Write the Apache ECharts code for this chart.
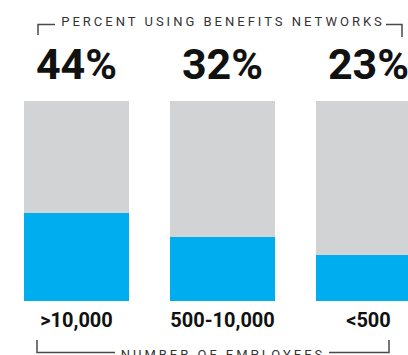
<!DOCTYPE html>
<html>
<head>
<meta charset="utf-8">
<script src="https://cdn.jsdelivr.net/npm/echarts@6/dist/echarts.min.js"></script>
<style>
  html, body { margin: 0; padding: 0; background: #ffffff; }
  #chart { width: 408px; height: 355px; }
</style>
</head>
<body>
<div id="chart"></div>
<script>
// Employer size groups and share of each using benefits networks (percent)
const categories = ['>10,000', '500-10,000', '<500'];
const shares = [44, 32, 23];
const topHeading = 'PERCENT USING BENEFITS NETWORKS';
const bottomHeading = 'NUMBER OF EMPLOYEES';

const blue = '#00adee';
const gray = '#d2d3d5';
const ink = '#111111';
const rule = '#4a4a4a';

const chart = echarts.init(document.getElementById('chart'), null, { renderer: 'svg' });

chart.setOption({
  animation: false,
  // the last column runs past the right edge of the page
  grid: {
    left: 3.5, top: 101, width: 438, height: 200,
    outerBoundsMode: 'none', containLabel: false
  },
  xAxis: {
    type: 'category',
    data: categories,
    axisLine: { show: false },
    axisTick: { show: false },
    axisLabel: {
      interval: 0,
      margin: 9,
      color: ink,
      fontFamily: 'Roboto',
      fontWeight: 700,
      fontSize: 20
    }
  },
  yAxis: { type: 'value', min: 0, max: 100, show: false },
  series: [
    {
      type: 'bar',
      stack: 'share',
      barWidth: 105,
      data: shares,
      itemStyle: { color: blue }
    },
    {
      type: 'bar',
      stack: 'share',
      barWidth: 105,
      data: shares.map(v => 100 - v),
      itemStyle: { color: gray },
      label: {
        show: true,
        position: 'top',
        distance: 16,
        formatter: p => shares[p.dataIndex] + '%',
        color: ink,
        fontFamily: 'Roboto',
        fontWeight: 700,
        fontSize: 43
      }
    }
  ],
  graphic: [
    {
      type: 'polyline', silent: true,
      shape: { points: [[38, 35], [38, 24.5], [55, 24.5]] },
      style: { stroke: rule, lineWidth: 1.5, fill: null }
    },
    {
      type: 'polyline', silent: true,
      shape: { points: [[386, 24.5], [402, 24.5], [402, 37]] },
      style: { stroke: rule, lineWidth: 1.5, fill: null }
    },
    {
      type: 'text', silent: true, id: 'topHeading',
      x: 223, y: 21.5,
      style: {
        text: topHeading, fill: '#333333',
        font: '400 13px Roboto', align: 'center', verticalAlign: 'middle'
      }
    },
    {
      type: 'polyline', silent: true,
      shape: { points: [[37, 340], [37, 352.5], [115, 352.5]] },
      style: { stroke: rule, lineWidth: 1.5, fill: null }
    },
    {
      type: 'polyline', silent: true,
      shape: { points: [[329, 352.5], [389, 352.5], [389, 340]] },
      style: { stroke: rule, lineWidth: 1.5, fill: null }
    },
    {
      type: 'text', silent: true, id: 'bottomHeading',
      x: 223, y: 354,
      style: {
        text: bottomHeading, fill: '#333333',
        font: '400 13px Roboto', align: 'center', verticalAlign: 'middle'
      }
    }
  ]
});

// Spread the small-caps headings out with letter spacing
document.querySelectorAll('#chart svg text').forEach(t => {
  const s = t.textContent;
  if (s === topHeading || s === bottomHeading) {
    t.style.letterSpacing = '3px';
  }
});
</script>
</body>
</html>
